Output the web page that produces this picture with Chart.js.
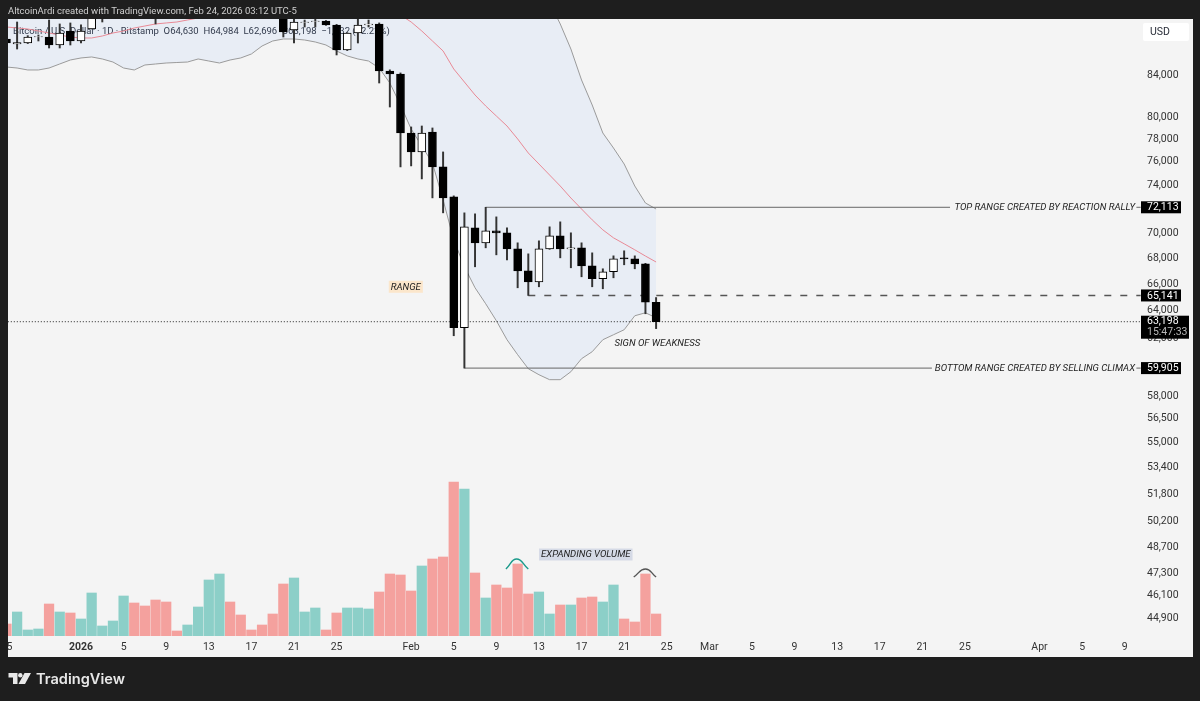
<!DOCTYPE html>
<html>
<head>
<meta charset="utf-8">
<title>BTCUSD 1D</title>
<script src="https://cdn.jsdelivr.net/npm/chart.js@4/dist/chart.umd.min.js"></script>
<style>
    html, body { margin: 0; padding: 0; background: #1e1e1e; }
    canvas { display: block; }
</style>
</head>
<body>
<canvas id="chart" width="1200" height="701"></canvas>
<script>
// days are counted from Jan 1 2026 = 0
const candleDays = [-7,-6,-5,-4,-3,-2,-1,0,1,2,3,4,5,6,7,8,9,10,11,12,13,14,15,16,17,18,19,20,21,22,23,24,25,26,27,28,29,30,31,32,33,34,35,36,37,38,39,40,41,42,43,44,45,46,47,48,49,50,51,52,53,54];
const opens  = [87562,87058,87158,87764,87764,86957,88373,87360,88578,90300,90600,91500,93900,93700,91200,91000,90500,90400,90800,91300,95300,97000,95600,95500,95100,93600,92600,88478,89250,89350,89398,88989,86458,88169,89000,89093,84390,84097,78564,76867,78650,75551,72982,62760,70424,69217,70180,70020,68740,67020,66175,68740,69777,68740,68820,67407,66405,66943,68030,67953,67563,64630];
const highs  = [87865,89295,87900,87966,89501,89093,89196,89000,90700,91800,91800,94500,94700,93800,91500,91800,90800,91100,92400,96400,97800,97200,96000,95600,95400,93800,92700,90400,89501,90100,89450,89050,88200,89600,89501,89200,84500,84200,79115,79202,79022,76867,73070,71652,71570,72113,71320,70424,69217,68343,69376,70505,70912,70020,69217,68422,67175,68185,68583,68185,67600,64984];
const lows   = [86857,86555,87100,87360,86657,86657,86957,87158,88578,89295,90000,91000,92800,90800,89093,89700,90200,90000,90100,91000,94600,95100,94700,94900,92400,91900,87764,87158,88783,88783,88950,85963,86400,87158,88783,83228,80955,75551,75638,74513,72900,71652,62183,59905,67330,68820,68265,67875,65720,65141,65796,68700,68030,67252,66558,65796,65645,66481,67486,67175,63780,62696];
const closes = [87158,87200,87764,87800,86957,88169,87360,88373,90000,90600,91500,93900,93700,91200,91000,90500,90400,90800,91300,95300,97000,95600,95500,95100,93600,92600,88271,89295,89295,89398,88989,86458,88169,88989,89093,84390,84097,78564,76867,78564,75551,72900,62760,70505,69217,70180,70020,68740,67020,66175,68740,69777,68740,68820,67407,66405,66943,67953,67953,67563,64630,63198];
const volumes = [12,24,6,7,32,24,23,17,43,10,15,40,33,30,36,34,5,11,29,56,62,34,21,6,11,22,52,58,24,28,6,23,28,28,27,44,62,61,45,70,77,79,154,147,63,38,51,48,72,42,44,22,31,31,38,39,34,51,17,14,62,22];

// bollinger bands and the basis line, one value a day from Dec 24
const bandDays = [-8,-7,-6,-5,-4,-3,-2,-1,0,1,2,3,4,5,6,7,8,9,10,11,12,13,14,15,16,17,18,19,20,21,22,23,24,25,26,27,28,29,30,31,32,33,34,35,36,37,38,39,40,41,42,43,44,45,46,47,48,49,50,51,52,53,54];
const upperBand = [97500,97500,97400,97400,97300,97300,97200,97200,97200,97100,97100,97200,97300,97400,97500,97500,97500,97500,97400,97400,97500,97700,97900,98100,98200,98200,98100,98000,97900,97800,97800,97700,97700,97600,97500,97500,97500,97600,97700,97700,97700,97600,97500,97400,97300,97200,97200,96800,96200,95500,94500,93190,91330,89093,86555,83517,81143,78564,77217,75805,73905,72470,71971];
const lowerBand = [84876,84777,84680,84487,84487,84680,85073,85466,85666,85766,85566,85266,84680,84487,84975,85073,85170,85218,85266,85566,85366,85170,85466,85666,86060,86857,87360,87562,87562,87460,87259,86957,86358,85866,85566,85366,84680,83228,81143,78928,77395,75893,72732,69456,67330,65720,64520,63268,61898,60838,59864,59450,59110,59110,59657,60558,61048,61898,62255,62615,63633,63853,63487];
const basisLine = [88885,88783,88680,88578,88373,88169,87966,87764,87663,87663,87865,88169,88373,88680,88885,89093,89196,89295,89501,89708,90018,90330,90600,90900,91100,91300,91400,91500,91600,91600,91600,91550,91450,91300,91150,91000,90800,90400,90018,89295,88373,87360,86358,84585,83324,82084,81050,80120,79202,78027,76774,75805,74849,73905,72889,71971,71075,70261,69617,69140,68661,68170,67704];

const priceTicks = [84000,80000,78000,76000,74000,70000,68000,66000,64000,62000,58000,56500,55000,53400,51800,50200,48700,47300,46100,44900];
const timeTickDays = [-7,0,4,8,12,16,20,24,31,35,39,43,47,51,55,59,63,67,71,75,79,83,90,94,98];
const timeTickLabels = ["25","2026","5","9","13","17","21","25","Feb","5","9","13","17","21","25","Mar","5","9","13","17","21","25","Apr","5","9"];

const topRange = 72113;
const midRange = 65141;
const bottomRange = 59905;
const lastPrice = 63198;
const legendText = "Bitcoin / U.S. Dollar · 1D · Bitstamp  O64,630  H64,984  L62,696  C63,198  −1,432 (−2.22%)";

const UP_VOL = "#8ccfc8";
const DOWN_VOL = "#f4a19e";
const FONT = "Roboto, 'Liberation Sans', sans-serif";

function text(ctx, str, x, y, font, color, align) {
    ctx.font = font;
    ctx.fillStyle = color;
    ctx.textAlign = align || "left";
    ctx.textBaseline = "middle";
    ctx.fillText(str, x, y + 0.5);
}

// note with a coloured box behind it
function boxedNote(ctx, str, x, y, font, boxColor) {
    ctx.font = font;
    const w = ctx.measureText(str).width + 4;
    ctx.fillStyle = boxColor;
    ctx.fillRect(x - w / 2, y - 6, w, 12);
    text(ctx, str, x, y, font, "#222", "center");
}

function priceBox(ctx, label, y) {
    ctx.fillStyle = "#000";
    ctx.fillRect(1141, y - 6, 40, 12);
    text(ctx, label, 1147, y, "10.5px " + FONT, "#fff");
}

const panel = {
    id: "panel",
    beforeDraw(chart) {
        const ctx = chart.ctx;
        ctx.fillStyle = "#f4f4f4";
        ctx.fillRect(8, 19, 1185, 638);
    },
    // legend sits below the candles
    beforeDatasetsDraw(chart) {
        text(chart.ctx, legendText, 13, 31, "9.5px " + FONT, "#2a2e39");
    },
    afterDatasetsDraw(chart) {
        const ctx = chart.ctx;
        const x = chart.scales.x;
        const y = chart.scales.y;
        const vol = chart.scales.yVol;
        const italic = "italic 9.6px " + FONT;

        // annotations
        boxedNote(ctx, "RANGE", x.getPixelForValue(30.5), y.getPixelForValue(65796), italic, "#fbe6cb");
        text(ctx, "SIGN OF WEAKNESS", x.getPixelForValue(50.1), y.getPixelForValue(61685), italic, "#222");
        text(ctx, "TOP RANGE CREATED BY REACTION RALLY", x.getPixelForValue(98.97), y.getPixelForValue(topRange), italic, "#222", "right");
        text(ctx, "BOTTOM RANGE CREATED BY SELLING CLIMAX", x.getPixelForValue(98.97), y.getPixelForValue(bottomRange), italic, "#222", "right");
        boxedNote(ctx, "EXPANDING VOLUME", x.getPixelForValue(47.4), vol.getPixelForValue(81.5), italic, "#d5dae6");

        // price scale labels
        ctx.fillStyle = "#fff";
        ctx.beginPath();
        ctx.roundRect(1143, 23, 46, 18, 2);
        ctx.fill();
        text(ctx, "USD", 1150, 32, "10.5px " + FONT, "#2a2e39");
        priceBox(ctx, "72,113", y.getPixelForValue(topRange));
        priceBox(ctx, "65,141", y.getPixelForValue(midRange));
        priceBox(ctx, "59,905", y.getPixelForValue(bottomRange));
        const lastY = y.getPixelForValue(lastPrice);
        ctx.fillStyle = "#000";
        ctx.fillRect(1141, lastY - 6, 48, 23);
        text(ctx, "63,198", 1147, lastY - 0.5, "10.5px " + FONT, "#fff");
        text(ctx, "15:47:33", 1147, lastY + 10, "10.5px " + FONT, "#b8b8b8");
    },
    afterDraw(chart) {
        const ctx = chart.ctx;
        ctx.fillStyle = "#1e1e1e";
        ctx.fillRect(0, 0, 1200, 19);
        ctx.fillRect(0, 0, 8, 701);
        ctx.fillRect(1193, 0, 7, 701);
        ctx.fillRect(0, 657, 1200, 44);

        text(ctx, "AltcoinArdi created with TradingView.com, Feb 24, 2026 03:12 UTC-5", 8, 11, "9.5px " + FONT, "#cfcfcf");

        // logo
        ctx.fillStyle = "#e8e8e8";
        ctx.beginPath();
        ctx.moveTo(8.5, 673);
        ctx.lineTo(17.5, 673);
        ctx.lineTo(17.5, 684);
        ctx.lineTo(13, 684);
        ctx.lineTo(13, 677.5);
        ctx.lineTo(8.5, 677.5);
        ctx.closePath();
        ctx.fill();
        ctx.beginPath();
        ctx.arc(20.3, 675.2, 2.2, 0, Math.PI * 2);
        ctx.fill();
        ctx.beginPath();
        ctx.moveTo(24.5, 673);
        ctx.lineTo(31, 673);
        ctx.lineTo(25, 684);
        ctx.lineTo(18.5, 684);
        ctx.closePath();
        ctx.fill();
        text(ctx, "TradingView", 36, 679, "600 14.6px Inter, " + FONT, "#e8e8e8");
    }
};

const candlePoints = (a, b) => candleDays.map((d, i) => ({ x: d, y: [a[i], b[i]] }));
const bandPoints = (values) => bandDays.map((d, i) => ({ x: d, y: values[i] }));
const levelLine = { type: "line", borderColor: "#666", borderWidth: 1, pointRadius: 0, xAxisID: "x", yAxisID: "y", order: 3 };

new Chart(document.getElementById("chart"), {
    type: "bar",
    data: {
        datasets: [
            { type: "line", data: bandPoints(upperBand), borderColor: "#9b9b9b", borderWidth: 1, pointRadius: 0, fill: "+1", backgroundColor: "rgba(124,174,254,0.1)", yAxisID: "y", order: 9 },
            { type: "line", data: bandPoints(lowerBand), borderColor: "#9b9b9b", borderWidth: 1, pointRadius: 0, fill: false, yAxisID: "y", order: 8 },
            { type: "line", data: bandPoints(basisLine), borderColor: "#e88a96", borderWidth: 1, pointRadius: 0, fill: false, yAxisID: "y", order: 7 },
            {
                data: candleDays.map((d, i) => ({ x: d, y: volumes[i] })),
                backgroundColor: candleDays.map((d, i) => closes[i] >= opens[i] ? UP_VOL : DOWN_VOL),
                barThickness: 9.6, grouped: false, yAxisID: "yVol", order: 6
            },
            { ...levelLine, data: [{ x: 38, y: topRange }, { x: 81.6, y: topRange }, { x: 90, y: null }, { x: 99.1, y: topRange }, { x: 99.5, y: topRange }] },
            { ...levelLine, data: [{ x: 36, y: bottomRange }, { x: 79.9, y: bottomRange }, { x: 90, y: null }, { x: 99.1, y: bottomRange }, { x: 99.5, y: bottomRange }] },
            { ...levelLine, data: [{ x: 42, y: midRange }, { x: 99.5, y: midRange }], borderDash: [7, 9], borderWidth: 1.6, borderColor: "#555" },
            { ...levelLine, data: [{ x: -8, y: lastPrice }, { x: 99.7, y: lastPrice }], borderDash: [1, 2], borderColor: "#222", borderWidth: 1 },
            // wicks
            { data: candlePoints(lows, highs), backgroundColor: "#333", barThickness: 1.3, grouped: false, yAxisID: "y", order: 2 },
            // bodies
            {
                data: candlePoints(opens, closes),
                backgroundColor: candleDays.map((d, i) => closes[i] >= opens[i] ? "#fff" : "#000"),
                borderColor: "#000", borderWidth: 1, borderSkipped: false,
                barThickness: 8, grouped: false, yAxisID: "y", order: 1
            },
            // arcs over the volume bars
            { type: "line", data: [{ x: 39.9, y: 67 }, { x: 40.9, y: 77 }, { x: 42, y: 67 }], borderColor: "#1a9a8a", borderWidth: 1.4, pointRadius: 0, tension: 0.5, yAxisID: "yVol", order: 0 },
            { type: "line", data: [{ x: 51.9, y: 59 }, { x: 53, y: 67 }, { x: 54, y: 59 }], borderColor: "#555", borderWidth: 1.4, pointRadius: 0, tension: 0.5, yAxisID: "yVol", order: 0 }
        ]
    },
    options: {
        responsive: false,
        animation: false,
        events: [],
        devicePixelRatio: 1,
        layout: { padding: { top: 19, left: 0, right: 0, bottom: 0 } },
        plugins: { legend: { display: false }, tooltip: { enabled: false } },
        scales: {
            x: {
                type: "linear",
                offset: false,
                min: -7.606,
                max: 99.72,
                grid: { display: false, drawTicks: false },
                border: { display: false },
                afterFit: (s) => { s.height = 65; s.paddingLeft = 0; s.paddingRight = 0; },
                afterBuildTicks: (s) => { s.ticks = timeTickDays.map((v) => ({ value: v })); },
                ticks: {
                    autoSkip: false,
                    maxRotation: 0,
                    minRotation: 0,
                    padding: 5,
                    color: "#333",
                    font: (c) => ({ family: FONT, size: 10.5, weight: c.tick && c.tick.value === 0 ? "bold" : "normal" }),
                    callback: (v) => timeTickLabels[timeTickDays.indexOf(v)]
                }
            },
            y: {
                type: "logarithmic",
                position: "right",
                min: 43982,
                max: 89604,
                grid: { display: false, drawTicks: false },
                border: { display: false },
                afterFit: (s) => { s.width = 57; s.paddingTop = 0; s.paddingBottom = 0; },
                afterBuildTicks: (s) => { s.ticks = priceTicks.map((v) => ({ value: v })); },
                ticks: {
                    autoSkip: false,
                    padding: 4,
                    color: "#333",
                    font: { family: FONT, size: 10.5 },
                    callback: (v) => v.toLocaleString("en-US")
                }
            },
            yVol: {
                type: "linear",
                display: false,
                min: 0,
                max: 617
            }
        }
    },
    plugins: [panel]
});
</script>
</body>
</html>
